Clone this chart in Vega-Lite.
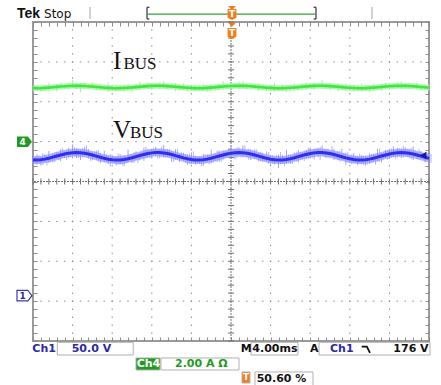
{
"$schema":"https://vega.github.io/schema/vega-lite/v6.json",
"width":396,"height":319,
"autosize":{"type":"none"},
"padding":{"left":33,"top":22,"right":12,"bottom":44},
"background":"#ffffff",
"config":{"view":{"stroke":"#9a9a9a","strokeWidth":2},"axis":{"labels":false,"domain":false,"grid":false,"ticks":true,"tickSize":-4,"tickColor":"#8a8a8a","tickWidth":1}},
"resolve":{"axis":{"x":"independent","y":"independent"},"scale":{"color":"independent","fill":"independent"}},
"datasets":{
"gx":[{"x":1},{"x":2},{"x":3},{"x":4},{"x":6},{"x":7},{"x":8},{"x":9}],
"gy":[{"y":-3},{"y":-2},{"y":-1},{"y":1},{"y":2},{"y":3}],
"tx":[{"x":0},{"x":0.2},{"x":0.4},{"x":0.6},{"x":0.8},{"x":1},{"x":1.2},{"x":1.4},{"x":1.6},{"x":1.8},{"x":2},{"x":2.2},{"x":2.4},{"x":2.6},{"x":2.8},{"x":3},{"x":3.2},{"x":3.4},{"x":3.6},{"x":3.8},{"x":4},{"x":4.2},{"x":4.4},{"x":4.6},{"x":4.8},{"x":5},{"x":5.2},{"x":5.4},{"x":5.6},{"x":5.8},{"x":6},{"x":6.2},{"x":6.4},{"x":6.6},{"x":6.8},{"x":7},{"x":7.2},{"x":7.4},{"x":7.6},{"x":7.8},{"x":8},{"x":8.2},{"x":8.4},{"x":8.6},{"x":8.8},{"x":9},{"x":9.2},{"x":9.4},{"x":9.6},{"x":9.8},{"x":10}],
"ty":[{"y":-4},{"y":-3.8},{"y":-3.6},{"y":-3.4},{"y":-3.2},{"y":-3},{"y":-2.8},{"y":-2.6},{"y":-2.4},{"y":-2.2},{"y":-2},{"y":-1.8},{"y":-1.6},{"y":-1.4},{"y":-1.2},{"y":-1},{"y":-0.8},{"y":-0.6},{"y":-0.4},{"y":-0.2},{"y":0},{"y":0.2},{"y":0.4},{"y":0.6},{"y":0.8},{"y":1},{"y":1.2},{"y":1.4},{"y":1.6},{"y":1.8},{"y":2},{"y":2.2},{"y":2.4},{"y":2.6},{"y":2.8},{"y":3},{"y":3.2},{"y":3.4},{"y":3.6},{"y":3.8},{"y":4}],
"tr":[
{"x":0,"b":0.541,"bl":0.451,"bh":0.641,"cl":0.431,"ch":0.621,"g":2.341,"gl":2.291,"gh":2.401},
{"x":0.1,"b":0.539,"bl":0.419,"bh":0.679,"cl":0.449,"ch":0.659,"g":2.340,"gl":2.270,"gh":2.430},
{"x":0.2,"b":0.546,"bl":0.396,"bh":0.616,"cl":0.416,"ch":0.706,"g":2.342,"gl":2.252,"gh":2.392},
{"x":0.3,"b":0.561,"bl":0.481,"bh":0.681,"cl":0.401,"ch":0.651,"g":2.347,"gl":2.287,"gh":2.427},
{"x":0.4,"b":0.583,"bl":0.473,"bh":0.763,"cl":0.503,"ch":0.653,"g":2.354,"gl":2.274,"gh":2.474},
{"x":0.5,"b":0.610,"bl":0.480,"bh":0.700,"cl":0.490,"ch":0.740,"g":2.363,"gl":2.313,"gh":2.423},
{"x":0.6,"b":0.638,"bl":0.568,"bh":0.748,"cl":0.538,"ch":0.738,"g":2.372,"gl":2.262,"gh":2.442},
{"x":0.7,"b":0.666,"bl":0.506,"bh":0.816,"cl":0.596,"ch":0.846,"g":2.381,"gl":2.321,"gh":2.481},
{"x":0.8,"b":0.691,"bl":0.591,"bh":0.751,"cl":0.541,"ch":0.801,"g":2.389,"gl":2.319,"gh":2.439},
{"x":0.9,"b":0.711,"bl":0.591,"bh":0.841,"cl":0.601,"ch":0.771,"g":2.395,"gl":2.305,"gh":2.475},
{"x":1.0,"b":0.723,"bl":0.633,"bh":0.933,"cl":0.633,"ch":0.863,"g":2.399,"gl":2.349,"gh":2.549},
{"x":1.1,"b":0.727,"bl":0.587,"bh":0.827,"cl":0.587,"ch":0.817,"g":2.400,"gl":2.320,"gh":2.460},
{"x":1.2,"b":0.722,"bl":0.542,"bh":0.802,"cl":0.602,"ch":0.842,"g":2.398,"gl":2.238,"gh":2.468},
{"x":1.3,"b":0.709,"bl":0.629,"bh":0.869,"cl":0.629,"ch":0.909,"g":2.394,"gl":2.334,"gh":2.484},
{"x":1.4,"b":0.689,"bl":0.579,"bh":0.809,"cl":0.519,"ch":0.769,"g":2.388,"gl":2.318,"gh":2.438},
{"x":1.5,"b":0.663,"bl":0.533,"bh":0.733,"cl":0.563,"ch":0.763,"g":2.380,"gl":2.330,"gh":2.490},
{"x":1.6,"b":0.635,"bl":0.535,"bh":0.775,"cl":0.505,"ch":0.785,"g":2.371,"gl":2.281,"gh":2.431},
{"x":1.7,"b":0.607,"bl":0.457,"bh":0.717,"cl":0.517,"ch":0.677,"g":2.362,"gl":2.282,"gh":2.442},
{"x":1.8,"b":0.581,"bl":0.491,"bh":0.771,"cl":0.471,"ch":0.691,"g":2.353,"gl":2.293,"gh":2.423},
{"x":1.9,"b":0.560,"bl":0.440,"bh":0.650,"cl":0.370,"ch":0.690,"g":2.347,"gl":2.247,"gh":2.487},
{"x":2.0,"b":0.545,"bl":0.475,"bh":0.665,"cl":0.465,"ch":0.635,"g":2.342,"gl":2.282,"gh":2.392},
{"x":2.1,"b":0.539,"bl":0.399,"bh":0.619,"cl":0.419,"ch":0.709,"g":2.340,"gl":2.260,"gh":2.430},
{"x":2.2,"b":0.542,"bl":0.432,"bh":0.692,"cl":0.402,"ch":0.662,"g":2.341,"gl":2.291,"gh":2.401},
{"x":2.3,"b":0.553,"bl":0.383,"bh":0.653,"cl":0.453,"ch":0.633,"g":2.344,"gl":2.254,"gh":2.424},
{"x":2.4,"b":0.572,"bl":0.482,"bh":0.802,"cl":0.502,"ch":0.672,"g":2.350,"gl":2.280,"gh":2.450},
{"x":2.5,"b":0.596,"bl":0.466,"bh":0.686,"cl":0.466,"ch":0.736,"g":2.358,"gl":2.238,"gh":2.408},
{"x":2.6,"b":0.624,"bl":0.544,"bh":0.754,"cl":0.464,"ch":0.684,"g":2.367,"gl":2.307,"gh":2.437},
{"x":2.7,"b":0.652,"bl":0.532,"bh":0.722,"cl":0.562,"ch":0.762,"g":2.376,"gl":2.296,"gh":2.506},
{"x":2.8,"b":0.679,"bl":0.519,"bh":0.849,"cl":0.569,"ch":0.869,"g":2.385,"gl":2.335,"gh":2.445},
{"x":2.9,"b":0.702,"bl":0.602,"bh":0.812,"cl":0.582,"ch":0.792,"g":2.392,"gl":2.322,"gh":2.482},
{"x":3.0,"b":0.718,"bl":0.608,"bh":0.818,"cl":0.638,"ch":0.848,"g":2.397,"gl":2.297,"gh":2.467},
{"x":3.1,"b":0.726,"bl":0.636,"bh":0.866,"cl":0.576,"ch":0.806,"g":2.400,"gl":2.340,"gh":2.450},
{"x":3.2,"b":0.726,"bl":0.586,"bh":0.806,"cl":0.626,"ch":0.876,"g":2.400,"gl":2.310,"gh":2.480},
{"x":3.3,"b":0.717,"bl":0.597,"bh":0.917,"cl":0.587,"ch":0.817,"g":2.397,"gl":2.347,"gh":2.517},
{"x":3.4,"b":0.700,"bl":0.620,"bh":0.820,"cl":0.610,"ch":0.820,"g":2.391,"gl":2.311,"gh":2.451},
{"x":3.5,"b":0.677,"bl":0.487,"bh":0.767,"cl":0.497,"ch":0.747,"g":2.384,"gl":2.324,"gh":2.454},
{"x":3.6,"b":0.650,"bl":0.550,"bh":0.810,"cl":0.540,"ch":0.810,"g":2.375,"gl":2.265,"gh":2.465},
{"x":3.7,"b":0.621,"bl":0.491,"bh":0.691,"cl":0.551,"ch":0.731,"g":2.366,"gl":2.296,"gh":2.416},
{"x":3.8,"b":0.593,"bl":0.523,"bh":0.723,"cl":0.473,"ch":0.683,"g":2.357,"gl":2.297,"gh":2.457},
{"x":3.9,"b":0.569,"bl":0.419,"bh":0.679,"cl":0.429,"ch":0.699,"g":2.350,"gl":2.260,"gh":2.410},
{"x":4.0,"b":0.551,"bl":0.441,"bh":0.731,"cl":0.451,"ch":0.761,"g":2.344,"gl":2.294,"gh":2.424},
{"x":4.1,"b":0.541,"bl":0.421,"bh":0.641,"cl":0.451,"ch":0.621,"g":2.341,"gl":2.261,"gh":2.391},
{"x":4.2,"b":0.539,"bl":0.449,"bh":0.619,"cl":0.379,"ch":0.639,"g":2.340,"gl":2.280,"gh":2.410},
{"x":4.3,"b":0.546,"bl":0.386,"bh":0.696,"cl":0.466,"ch":0.686,"g":2.342,"gl":2.272,"gh":2.452},
{"x":4.4,"b":0.561,"bl":0.481,"bh":0.681,"cl":0.431,"ch":0.681,"g":2.347,"gl":2.247,"gh":2.407},
{"x":4.5,"b":0.583,"bl":0.453,"bh":0.803,"cl":0.473,"ch":0.673,"g":2.354,"gl":2.294,"gh":2.444},
{"x":4.6,"b":0.610,"bl":0.510,"bh":0.700,"cl":0.490,"ch":0.780,"g":2.363,"gl":2.283,"gh":2.413},
{"x":4.7,"b":0.638,"bl":0.498,"bh":0.778,"cl":0.488,"ch":0.708,"g":2.372,"gl":2.322,"gh":2.452},
{"x":4.8,"b":0.666,"bl":0.546,"bh":0.776,"cl":0.576,"ch":0.776,"g":2.381,"gl":2.291,"gh":2.521},
{"x":4.9,"b":0.691,"bl":0.601,"bh":0.761,"cl":0.591,"ch":0.841,"g":2.389,"gl":2.319,"gh":2.449},
{"x":5.0,"b":0.711,"bl":0.601,"bh":0.871,"cl":0.641,"ch":0.811,"g":2.395,"gl":2.275,"gh":2.485},
{"x":5.1,"b":0.723,"bl":0.553,"bh":0.823,"cl":0.583,"ch":0.853,"g":2.399,"gl":2.339,"gh":2.469},
{"x":5.2,"b":0.727,"bl":0.647,"bh":0.857,"cl":0.607,"ch":0.807,"g":2.400,"gl":2.320,"gh":2.500},
{"x":5.3,"b":0.722,"bl":0.602,"bh":0.912,"cl":0.612,"ch":0.902,"g":2.398,"gl":2.348,"gh":2.518},
{"x":5.4,"b":0.709,"bl":0.609,"bh":0.789,"cl":0.539,"ch":0.829,"g":2.394,"gl":2.304,"gh":2.454},
{"x":5.5,"b":0.689,"bl":0.539,"bh":0.809,"cl":0.609,"ch":0.779,"g":2.388,"gl":2.318,"gh":2.468},
{"x":5.6,"b":0.663,"bl":0.573,"bh":0.813,"cl":0.563,"ch":0.803,"g":2.380,"gl":2.320,"gh":2.430},
{"x":5.7,"b":0.635,"bl":0.505,"bh":0.725,"cl":0.505,"ch":0.745,"g":2.371,"gl":2.271,"gh":2.461},
{"x":5.8,"b":0.607,"bl":0.497,"bh":0.717,"cl":0.517,"ch":0.677,"g":2.362,"gl":2.302,"gh":2.432},
{"x":5.9,"b":0.581,"bl":0.501,"bh":0.751,"cl":0.431,"ch":0.741,"g":2.353,"gl":2.273,"gh":2.413},
{"x":6.0,"b":0.560,"bl":0.420,"bh":0.660,"cl":0.440,"ch":0.660,"g":2.347,"gl":2.297,"gh":2.427},
{"x":6.1,"b":0.545,"bl":0.425,"bh":0.615,"cl":0.465,"ch":0.665,"g":2.342,"gl":2.252,"gh":2.472},
{"x":6.2,"b":0.539,"bl":0.339,"bh":0.679,"cl":0.429,"ch":0.739,"g":2.340,"gl":2.270,"gh":2.390},
{"x":6.3,"b":0.542,"bl":0.452,"bh":0.662,"cl":0.382,"ch":0.632,"g":2.341,"gl":2.281,"gh":2.431},
{"x":6.4,"b":0.553,"bl":0.443,"bh":0.793,"cl":0.453,"ch":0.683,"g":2.344,"gl":2.234,"gh":2.414},
{"x":6.5,"b":0.572,"bl":0.442,"bh":0.662,"cl":0.442,"ch":0.652,"g":2.350,"gl":2.300,"gh":2.410},
{"x":6.6,"b":0.596,"bl":0.516,"bh":0.726,"cl":0.506,"ch":0.746,"g":2.358,"gl":2.278,"gh":2.458},
{"x":6.7,"b":0.624,"bl":0.474,"bh":0.784,"cl":0.554,"ch":0.734,"g":2.367,"gl":2.307,"gh":2.417},
{"x":6.8,"b":0.652,"bl":0.552,"bh":0.732,"cl":0.512,"ch":0.752,"g":2.376,"gl":2.286,"gh":2.456},
{"x":6.9,"b":0.679,"bl":0.559,"bh":0.789,"cl":0.559,"ch":0.849,"g":2.385,"gl":2.315,"gh":2.495},
{"x":7.0,"b":0.702,"bl":0.612,"bh":0.852,"cl":0.592,"ch":0.772,"g":2.392,"gl":2.342,"gh":2.452},
{"x":7.1,"b":0.718,"bl":0.558,"bh":0.818,"cl":0.638,"ch":0.838,"g":2.397,"gl":2.297,"gh":2.487},
{"x":7.2,"b":0.726,"bl":0.616,"bh":0.846,"cl":0.546,"ch":0.866,"g":2.400,"gl":2.340,"gh":2.470},
{"x":7.3,"b":0.726,"bl":0.646,"bh":0.906,"cl":0.626,"ch":0.816,"g":2.400,"gl":2.320,"gh":2.540},
{"x":7.4,"b":0.717,"bl":0.587,"bh":0.807,"cl":0.587,"ch":0.827,"g":2.397,"gl":2.327,"gh":2.447},
{"x":7.5,"b":0.700,"bl":0.600,"bh":0.770,"cl":0.610,"ch":0.890,"g":2.391,"gl":2.301,"gh":2.471},
{"x":7.6,"b":0.677,"bl":0.537,"bh":0.817,"cl":0.557,"ch":0.757,"g":2.384,"gl":2.334,"gh":2.444},
{"x":7.7,"b":0.650,"bl":0.530,"bh":0.760,"cl":0.500,"ch":0.780,"g":2.375,"gl":2.255,"gh":2.465},
{"x":7.8,"b":0.621,"bl":0.531,"bh":0.821,"cl":0.541,"ch":0.721,"g":2.366,"gl":2.306,"gh":2.436},
{"x":7.9,"b":0.593,"bl":0.413,"bh":0.723,"cl":0.483,"ch":0.743,"g":2.357,"gl":2.277,"gh":2.457},
{"x":8.0,"b":0.569,"bl":0.459,"bh":0.649,"cl":0.429,"ch":0.689,"g":2.350,"gl":2.280,"gh":2.400},
{"x":8.1,"b":0.551,"bl":0.471,"bh":0.711,"cl":0.451,"ch":0.641,"g":2.344,"gl":2.254,"gh":2.424},
{"x":8.2,"b":0.541,"bl":0.411,"bh":0.641,"cl":0.471,"ch":0.701,"g":2.341,"gl":2.291,"gh":2.401},
{"x":8.3,"b":0.539,"bl":0.439,"bh":0.659,"cl":0.409,"ch":0.649,"g":2.340,"gl":2.260,"gh":2.460},
{"x":8.4,"b":0.546,"bl":0.396,"bh":0.636,"cl":0.426,"ch":0.626,"g":2.342,"gl":2.282,"gh":2.412},
{"x":8.5,"b":0.561,"bl":0.441,"bh":0.711,"cl":0.471,"ch":0.691,"g":2.347,"gl":2.247,"gh":2.397},
{"x":8.6,"b":0.583,"bl":0.493,"bh":0.693,"cl":0.423,"ch":0.683,"g":2.354,"gl":2.284,"gh":2.444},
{"x":8.7,"b":0.610,"bl":0.500,"bh":0.820,"cl":0.500,"ch":0.830,"g":2.363,"gl":2.313,"gh":2.423},
{"x":8.8,"b":0.638,"bl":0.478,"bh":0.718,"cl":0.558,"ch":0.728,"g":2.372,"gl":2.282,"gh":2.452},
{"x":8.9,"b":0.666,"bl":0.586,"bh":0.796,"cl":0.546,"ch":0.786,"g":2.381,"gl":2.321,"gh":2.481},
{"x":9.0,"b":0.691,"bl":0.561,"bh":0.791,"cl":0.591,"ch":0.831,"g":2.389,"gl":2.309,"gh":2.459},
{"x":9.1,"b":0.711,"bl":0.611,"bh":0.881,"cl":0.571,"ch":0.781,"g":2.395,"gl":2.325,"gh":2.455},
{"x":9.2,"b":0.723,"bl":0.603,"bh":0.843,"cl":0.633,"ch":0.833,"g":2.399,"gl":2.349,"gh":2.489},
{"x":9.3,"b":0.727,"bl":0.587,"bh":0.817,"cl":0.597,"ch":0.887,"g":2.400,"gl":2.310,"gh":2.510},
{"x":9.4,"b":0.722,"bl":0.632,"bh":0.862,"cl":0.612,"ch":0.822,"g":2.398,"gl":2.338,"gh":2.448},
{"x":9.5,"b":0.709,"bl":0.599,"bh":0.819,"cl":0.559,"ch":0.839,"g":2.394,"gl":2.314,"gh":2.474},
{"x":9.6,"b":0.689,"bl":0.539,"bh":0.879,"cl":0.609,"ch":0.779,"g":2.388,"gl":2.338,"gh":2.448},
{"x":9.7,"b":0.663,"bl":0.563,"bh":0.743,"cl":0.543,"ch":0.813,"g":2.380,"gl":2.310,"gh":2.470},
{"x":9.8,"b":0.635,"bl":0.555,"bh":0.765,"cl":0.535,"ch":0.715,"g":2.371,"gl":2.271,"gh":2.441},
{"x":9.9,"b":0.607,"bl":0.487,"bh":0.707,"cl":0.517,"ch":0.727,"g":2.362,"gl":2.302,"gh":2.412},
{"x":10,"b":0.581,"bl":0.471,"bh":0.701,"cl":0.471,"ch":0.691,"g":2.353,"gl":2.283,"gh":2.433}
]
},
"layer":[
{"data":{"name":"gx"},"mark":{"type":"rule","color":"#8c8c8c","strokeWidth":1,"strokeDash":[1.5,6.48],"strokeDashOffset":0.75},
 "encoding":{"x":{"field":"x","type":"quantitative","scale":{"domain":[0,10],"nice":false,"zero":false},"axis":{"orient":"top","tickCount":50,"title":null}}}},
{"data":{"name":"gy"},"mark":{"type":"rule","color":"#8c8c8c","strokeWidth":1,"strokeDash":[1.5,6.42],"strokeDashOffset":0.75},
 "encoding":{"y":{"field":"y","type":"quantitative","scale":{"domain":[-4,4],"nice":false,"zero":false},"axis":{"orient":"right","tickCount":40,"title":null}}}},
{"data":{"values":[{}]},"mark":{"type":"rule","color":"#707070","strokeWidth":1,"strokeDash":[2,1]},
 "encoding":{"x":{"datum":5,"type":"quantitative","scale":{"domain":[0,10],"nice":false,"zero":false},"axis":null}}},
{"data":{"values":[{}]},"mark":{"type":"rule","color":"#707070","strokeWidth":1,"strokeDash":[2,1]},
 "encoding":{"y":{"datum":0,"type":"quantitative","scale":{"domain":[-4,4],"nice":false,"zero":false},"axis":null}}},
{"data":{"name":"tx"},"mark":{"type":"tick","orient":"vertical","size":6,"thickness":1,"color":"#707070","opacity":1},
 "encoding":{"x":{"field":"x","type":"quantitative","scale":{"domain":[0,10],"nice":false,"zero":false},"axis":{"orient":"bottom","tickCount":50,"title":null}},
  "y":{"datum":0,"type":"quantitative","scale":{"domain":[-4,4],"nice":false,"zero":false},"axis":null}}},
{"data":{"name":"ty"},"mark":{"type":"tick","orient":"horizontal","size":6,"thickness":1,"color":"#707070","opacity":1},
 "encoding":{"y":{"field":"y","type":"quantitative","scale":{"domain":[-4,4],"nice":false,"zero":false},"axis":{"orient":"left","tickCount":40,"title":null}},
  "x":{"datum":5,"type":"quantitative","scale":{"domain":[0,10],"nice":false,"zero":false},"axis":null}}},
{"data":{"name":"tr"},"mark":{"type":"line","color":"#a8f5a8","strokeWidth":6,"opacity":0.8},
 "encoding":{"x":{"field":"x","type":"quantitative","scale":{"domain":[0,10],"nice":false,"zero":false},"axis":null},
  "y":{"field":"g","type":"quantitative","scale":{"domain":[-4,4],"nice":false,"zero":false},"axis":null}}},
{"data":{"name":"tr"},"mark":{"type":"rule","color":"#8ef08e","strokeWidth":1,"opacity":0.8},
 "encoding":{"x":{"field":"x","type":"quantitative","scale":{"domain":[0,10],"nice":false,"zero":false},"axis":null},
  "y":{"field":"gl","type":"quantitative","scale":{"domain":[-4,4],"nice":false,"zero":false},"axis":null},"y2":{"field":"gh"}}},
{"data":{"name":"tr"},"mark":{"type":"line","color":"#a8a8ff","strokeWidth":8,"opacity":0.8},
 "encoding":{"x":{"field":"x","type":"quantitative","scale":{"domain":[0,10],"nice":false,"zero":false},"axis":null},
  "y":{"field":"b","type":"quantitative","scale":{"domain":[-4,4],"nice":false,"zero":false},"axis":null}}},
{"data":{"name":"tr"},"mark":{"type":"rule","color":"#8080ff","strokeWidth":1,"opacity":0.75},
 "encoding":{"x":{"field":"x","type":"quantitative","scale":{"domain":[0,10],"nice":false,"zero":false},"axis":null},
  "y":{"field":"bl","type":"quantitative","scale":{"domain":[-4,4],"nice":false,"zero":false},"axis":null},"y2":{"field":"bh"}}},
{"data":{"name":"tr"},"mark":{"type":"rule","color":"#9090ff","strokeWidth":1,"opacity":0.7,"xOffset":2},
 "encoding":{"x":{"field":"x","type":"quantitative","scale":{"domain":[0,10],"nice":false,"zero":false},"axis":null},
  "y":{"field":"cl","type":"quantitative","scale":{"domain":[-4,4],"nice":false,"zero":false},"axis":null},"y2":{"field":"ch"}}},
{"data":{"name":"tr"},"mark":{"type":"line","color":"#3ee63e","strokeWidth":2.6},
 "encoding":{"x":{"field":"x","type":"quantitative","scale":{"domain":[0,10],"nice":false,"zero":false},"axis":null},
  "y":{"field":"g","type":"quantitative","scale":{"domain":[-4,4],"nice":false,"zero":false},"axis":null}}},
{"data":{"name":"tr"},"mark":{"type":"line","color":"#2e2ef2","strokeWidth":3},
 "encoding":{"x":{"field":"x","type":"quantitative","scale":{"domain":[0,10],"nice":false,"zero":false},"axis":null},
  "y":{"field":"b","type":"quantitative","scale":{"domain":[-4,4],"nice":false,"zero":false},"axis":null}}},
{"data":{"values":[{"t":"I","x":2.02,"y":2.814},{"t":"V","x":2.02,"y":1.091}]},
 "mark":{"type":"text","font":"Liberation Serif","fontSize":25,"color":"#111111","align":"left","baseline":"alphabetic"},
 "encoding":{"x":{"field":"x","type":"quantitative","scale":{"domain":[0,10],"nice":false,"zero":false},"axis":null},
  "y":{"field":"y","type":"quantitative","scale":{"domain":[-4,4],"nice":false,"zero":false},"axis":null},"text":{"field":"t"}}},
{"data":{"values":[{"t":"BUS","x":2.283,"y":2.814},{"t":"BUS","x":2.449,"y":1.091}]},
 "mark":{"type":"text","font":"Liberation Serif","fontSize":17,"color":"#111111","align":"left","baseline":"alphabetic"},
 "encoding":{"x":{"field":"x","type":"quantitative","scale":{"domain":[0,10],"nice":false,"zero":false},"axis":null},
  "y":{"field":"y","type":"quantitative","scale":{"domain":[-4,4],"nice":false,"zero":false},"axis":null},"text":{"field":"t"}}},
{"data":{"values":[
 {"x":1.439,"x2":1.439,"y":4.075,"y2":4.376,"k":"sep"},
 {"x":8.561,"x2":8.561,"y":4.075,"y2":4.376,"k":"sep"},
 {"x":2.879,"x2":2.879,"y":4.075,"y2":4.369,"k":"br"},
 {"x":2.879,"x2":2.94,"y":4.369,"y2":4.369,"k":"br"},
 {"x":2.879,"x2":2.94,"y":4.075,"y2":4.075,"k":"br"},
 {"x":7.146,"x2":7.146,"y":4.075,"y2":4.369,"k":"br"},
 {"x":7.085,"x2":7.146,"y":4.369,"y2":4.369,"k":"br"},
 {"x":7.085,"x2":7.146,"y":4.075,"y2":4.075,"k":"br"},
 {"x":2.879,"x2":7.146,"y":4.2,"y2":4.2,"k":"zl"}]},
 "mark":{"type":"rule","strokeWidth":1.2},
 "encoding":{"x":{"field":"x","type":"quantitative","scale":{"domain":[0,10],"nice":false,"zero":false},"axis":null},"x2":{"field":"x2"},
  "y":{"field":"y","type":"quantitative","scale":{"domain":[-4,4],"nice":false,"zero":false},"axis":null},"y2":{"field":"y2"},
  "color":{"field":"k","type":"nominal","scale":{"domain":["sep","br","zl"],"range":["#b4b4b4","#333333","#3c9c3c"]},"legend":null}}},
{"data":{"values":[
 {"x":0.614,"x2":2.53,"y":-4.033,"y2":-4.351,"k":"box"},
 {"x":5.505,"x2":6.692,"y":-4.033,"y2":-4.351,"k":"box"},
 {"x":7.222,"x2":10.025,"y":-4.033,"y2":-4.351,"k":"box"},
 {"x":2.601,"x2":3.207,"y":-4.426,"y2":-4.727,"k":"ch4"},
 {"x":3.232,"x2":5.202,"y":-4.426,"y2":-4.727,"k":"box"},
 {"x":5.278,"x2":5.48,"y":-4.777,"y2":-5.053,"k":"trig"},
 {"x":5.606,"x2":7.071,"y":-4.777,"y2":-5.128,"k":"box"}]},
 "mark":{"type":"rect","stroke":"#b0b0b0","strokeWidth":1},
 "encoding":{"x":{"field":"x","type":"quantitative","scale":{"domain":[0,10],"nice":false,"zero":false},"axis":null},"x2":{"field":"x2"},
  "y":{"field":"y","type":"quantitative","scale":{"domain":[-4,4],"nice":false,"zero":false},"axis":null},"y2":{"field":"y2"},
  "fill":{"field":"k","type":"nominal","scale":{"domain":["box","ch4","trig"],"range":["#ffffff","#1f9b1f","#f07f1a"]},"legend":null}}},
{"data":{"values":[
 {"t":"Ch1","x":-0.017,"y":-4.276,"k":"b"},
 {"t":"50.0 V","x":0.977,"y":-4.276,"k":"b"},
 {"t":"M","x":5.244,"y":-4.276,"k":"k"},
 {"t":"4.00ms","x":5.538,"y":-4.276,"k":"k"},
 {"t":"A","x":6.995,"y":-4.276,"k":"k"},
 {"t":"Ch1","x":7.5,"y":-4.276,"k":"b"},
 {"t":"176 V","x":9.099,"y":-4.276,"k":"k"},
 {"t":"Ch4","x":2.619,"y":-4.66,"k":"w"},
 {"t":"2.00 A Ω","x":3.586,"y":-4.66,"k":"g"},
 {"t":"50.60 %","x":5.649,"y":-5.04,"k":"k"}]},
 "mark":{"type":"text","font":"DejaVu Sans","fontSize":11,"fontWeight":"bold","align":"left","baseline":"alphabetic"},
 "encoding":{"x":{"field":"x","type":"quantitative","scale":{"domain":[0,10],"nice":false,"zero":false},"axis":null},
  "y":{"field":"y","type":"quantitative","scale":{"domain":[-4,4],"nice":false,"zero":false},"axis":null},"text":{"field":"t"},
  "color":{"field":"k","type":"nominal","scale":{"domain":["b","k","g","w"],"range":["#2a2aa6","#111111","#1f9b1f","#ffffff"]},"legend":null}}},
{"data":{"values":[{"x":8.30,"y":-4.143},{"x":8.43,"y":-4.143},{"x":8.51,"y":-4.30}]},
 "mark":{"type":"line","color":"#111111","strokeWidth":1.8},
 "encoding":{"x":{"field":"x","type":"quantitative","scale":{"domain":[0,10],"nice":false,"zero":false},"axis":null},
  "y":{"field":"y","type":"quantitative","scale":{"domain":[-4,4],"nice":false,"zero":false},"axis":null}}},
{"data":{"values":[{"t":"Tek","x":-0.404,"y":4.10}]},
 "mark":{"type":"text","font":"Liberation Sans","fontSize":14,"fontWeight":"bold","color":"#111111","align":"left","baseline":"alphabetic"},
 "encoding":{"x":{"field":"x","type":"quantitative","scale":{"domain":[0,10],"nice":false,"zero":false},"axis":null},
  "y":{"field":"y","type":"quantitative","scale":{"domain":[-4,4],"nice":false,"zero":false},"axis":null},"text":{"field":"t"}}},
{"data":{"values":[{"t":"Stop","x":0.278,"y":4.10}]},
 "mark":{"type":"text","font":"DejaVu Sans","fontSize":12,"color":"#111111","align":"left","baseline":"alphabetic"},
 "encoding":{"x":{"field":"x","type":"quantitative","scale":{"domain":[0,10],"nice":false,"zero":false},"axis":null},
  "y":{"field":"y","type":"quantitative","scale":{"domain":[-4,4],"nice":false,"zero":false},"axis":null},"text":{"field":"t"}}},
{"data":{"values":[{"x":-0.215,"y":1.0}]},
 "mark":{"type":"point","shape":"M-1,-0.7L0.45,-0.7L1,0L0.45,0.7L-1,0.7Z","size":225,"filled":true,"color":"#1f9b1f","opacity":1},
 "encoding":{"x":{"field":"x","type":"quantitative","scale":{"domain":[0,10],"nice":false,"zero":false},"axis":null},
  "y":{"field":"y","type":"quantitative","scale":{"domain":[-4,4],"nice":false,"zero":false},"axis":null}}},
{"data":{"values":[{"x":-0.215,"y":-2.864}]},
 "mark":{"type":"point","shape":"M-1,-0.7L0.45,-0.7L1,0L0.45,0.7L-1,0.7Z","size":225,"filled":false,"fill":"#ffffff","stroke":"#3a3ab0","strokeWidth":1.2,"opacity":1},
 "encoding":{"x":{"field":"x","type":"quantitative","scale":{"domain":[0,10],"nice":false,"zero":false},"axis":null},
  "y":{"field":"y","type":"quantitative","scale":{"domain":[-4,4],"nice":false,"zero":false},"axis":null}}},
{"data":{"values":[{"x":5.025,"y":4.19},{"x":5.025,"y":3.71}]},
 "mark":{"type":"point","shape":"M-0.8,-1L0.8,-1L0.8,0.6L0,1L-0.8,0.6Z","size":121,"filled":true,"color":"#f07f1a","opacity":1},
 "encoding":{"x":{"field":"x","type":"quantitative","scale":{"domain":[0,10],"nice":false,"zero":false},"axis":null},
  "y":{"field":"y","type":"quantitative","scale":{"domain":[-4,4],"nice":false,"zero":false},"axis":null}}},
{"data":{"values":[{"x":5.025,"y":4.35},{"x":5.025,"y":3.93}]},
 "mark":{"type":"point","shape":"M-1,-0.5L1,-0.5L0,0.5Z","size":64,"filled":true,"color":"#f07f1a","opacity":1},
 "encoding":{"x":{"field":"x","type":"quantitative","scale":{"domain":[0,10],"nice":false,"zero":false},"axis":null},
  "y":{"field":"y","type":"quantitative","scale":{"domain":[-4,4],"nice":false,"zero":false},"axis":null}}},
{"data":{"values":[{"x":9.85,"y":0.652}]},
 "mark":{"type":"point","shape":"triangle-left","size":60,"filled":true,"color":"#1a1aa8","opacity":1},
 "encoding":{"x":{"field":"x","type":"quantitative","scale":{"domain":[0,10],"nice":false,"zero":false},"axis":null},
  "y":{"field":"y","type":"quantitative","scale":{"domain":[-4,4],"nice":false,"zero":false},"axis":null}}},
{"data":{"values":[
 {"t":"4","x":-0.265,"y":1.0,"k":"w"},
 {"t":"1","x":-0.265,"y":-2.864,"k":"b"},
 {"t":"T","x":5.025,"y":4.20,"k":"w"},
 {"t":"T","x":5.025,"y":3.72,"k":"w"},
 {"t":"T","x":5.379,"y":-4.915,"k":"w"}]},
 "mark":{"type":"text","font":"DejaVu Sans","fontSize":9,"fontWeight":"bold","align":"center","baseline":"middle"},
 "encoding":{"x":{"field":"x","type":"quantitative","scale":{"domain":[0,10],"nice":false,"zero":false},"axis":null},
  "y":{"field":"y","type":"quantitative","scale":{"domain":[-4,4],"nice":false,"zero":false},"axis":null},"text":{"field":"t"},
  "color":{"field":"k","type":"nominal","scale":{"domain":["b","w"],"range":["#2a2aa6","#ffffff"]},"legend":null}}}
]
}
